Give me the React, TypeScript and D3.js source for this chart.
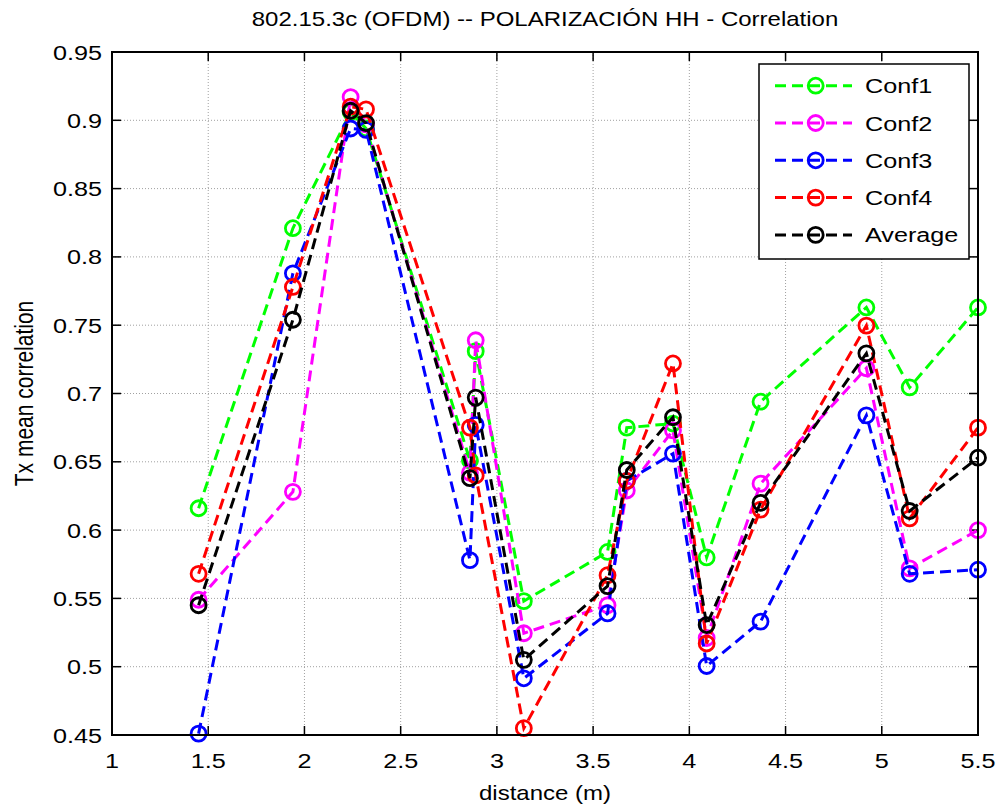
import React from "react";
import * as d3 from "d3";

const distances = [1.45, 1.94, 2.24, 2.32, 2.86, 2.89, 3.14, 3.575, 3.675, 3.915, 4.09, 4.37, 4.92, 5.145, 5.5];

const conf1 = [0.616, 0.821, 0.906, 0.894, 0.651, 0.731, 0.548, 0.584, 0.675, 0.678, 0.58, 0.694, 0.763, 0.7045, 0.763];
const conf2 = [0.549, 0.628, 0.917, 0.897, 0.642, 0.739, 0.5245, 0.545, 0.629, 0.673, 0.521, 0.634, 0.7185, 0.572, 0.6];
const conf3 = [0.451, 0.788, 0.894, 0.893, 0.578, 0.677, 0.4915, 0.539, 0.636, 0.656, 0.5005, 0.533, 0.684, 0.568, 0.571];
const conf4 = [0.568, 0.778, 0.91, 0.908, 0.675, 0.64, 0.455, 0.567, 0.636, 0.722, 0.517, 0.615, 0.7497, 0.6086, 0.675];
const average = [0.545, 0.754, 0.907, 0.898, 0.638, 0.697, 0.505, 0.559, 0.644, 0.6826, 0.5305, 0.62, 0.7294, 0.614, 0.653];

const seriesNames = ["Conf1", "Conf2", "Conf3", "Conf4", "Average"];
const seriesValues = [conf1, conf2, conf3, conf4, average];
const seriesColors = ["#00ff00", "#ff00ff", "#0000ff", "#ff0000", "#000000"];

const xTicks = [1, 1.5, 2, 2.5, 3, 3.5, 4, 4.5, 5, 5.5];
const yTicks = [0.45, 0.5, 0.55, 0.6, 0.65, 0.7, 0.75, 0.8, 0.85, 0.9, 0.95];

const title = "802.15.3c (OFDM) -- POLARIZACIÓN HH - Correlation";
const xTitle = "distance (m)";
const yTitle = "Tx mean correlation";

export default function App() {
  const W = 999, H = 807;
  const L = 112, R = 978, T = 52, B = 735;
  const x = d3.scaleLinear().domain([1, 5.5]).range([L, R]);
  const y = d3.scaleLinear().domain([0.45, 0.95]).range([B, T]);
  const line = d3.line<number>().x((_, i) => x(distances[i])).y((v) => y(v));
  const font = "'Liberation Sans', Arial, sans-serif";
  const tick = 9;
  const sx = 1.2;
  const fmt = (v: number) => String(+v.toFixed(2));

  const lg = { x0: 759, y0: 64, x1: 969, y1: 259 };
  const rowY = (i: number) => 85.7 + i * 37.3;

  return (
    <svg width={W} height={H} style={{ position: "absolute", left: 0, top: 0, background: "#fff" }} fontFamily={font}>
      <rect x={0} y={0} width={W} height={H} fill="#fff" />
      <rect x={L} y={T} width={R - L} height={B - T} fill="#fff" />
      {/* grid */}
      {xTicks.map((t) => (
        <line key={"gx" + t} x1={x(t)} x2={x(t)} y1={T} y2={B} stroke="#a0a0a0" strokeWidth={1} strokeDasharray="1,2" />
      ))}
      {yTicks.map((t) => (
        <line key={"gy" + t} x1={L} x2={R} y1={y(t)} y2={y(t)} stroke="#a0a0a0" strokeWidth={1} strokeDasharray="1,2" />
      ))}
      {/* ticks */}
      {xTicks.map((t) => (
        <g key={"tx" + t}>
          <line x1={x(t)} x2={x(t)} y1={B} y2={B - tick} stroke="#000" strokeWidth={1.5} />
          <line x1={x(t)} x2={x(t)} y1={T} y2={T + tick} stroke="#000" strokeWidth={1.5} />
          <text transform={`translate(${x(t)},768) scale(${sx},1)`} textAnchor="middle" fontSize={21} fill="#000">{fmt(t)}</text>
        </g>
      ))}
      {yTicks.map((t) => (
        <g key={"ty" + t}>
          <line x1={L} x2={L + tick} y1={y(t)} y2={y(t)} stroke="#000" strokeWidth={1.5} />
          <line x1={R} x2={R - tick} y1={y(t)} y2={y(t)} stroke="#000" strokeWidth={1.5} />
          <text transform={`translate(102,${y(t) + 7.5}) scale(${sx},1)`} textAnchor="end" fontSize={21} fill="#000">{fmt(t)}</text>
        </g>
      ))}
      {/* series */}
      {seriesValues.map((vals, si) => (
        <g key={"s" + si}>
          <path d={line(vals) || ""} fill="none" stroke={seriesColors[si]} strokeWidth={3} strokeDasharray="11,6" />
          {vals.map((v, i) => (
            <circle key={i} cx={x(distances[i])} cy={y(v)} r={7.5} fill="none" stroke={seriesColors[si]} strokeWidth={2.8} />
          ))}
        </g>
      ))}
      {/* axes box */}
      <rect x={L} y={T} width={R - L} height={B - T} fill="none" stroke="#000" strokeWidth={2} />
      {/* legend */}
      <rect x={lg.x0} y={lg.y0} width={lg.x1 - lg.x0} height={lg.y1 - lg.y0} fill="#fff" stroke="#000" strokeWidth={1.5} />
      {seriesNames.map((n, i) => (
        <g key={"l" + n}>
          <line x1={775} x2={852} y1={rowY(i)} y2={rowY(i)} stroke={seriesColors[i]} strokeWidth={3} strokeDasharray="11,6" />
          <circle cx={815.7} cy={rowY(i)} r={7.5} fill="none" stroke={seriesColors[i]} strokeWidth={2.8} />
          <text transform={`translate(865,${rowY(i) + 7.5}) scale(${sx},1)`} fontSize={21} fill="#000">{n}</text>
        </g>
      ))}
      {/* titles */}
      <text transform={`translate(${(L + R) / 2},26) scale(${sx},1)`} textAnchor="middle" fontSize={20} fill="#000">{title}</text>
      <text transform={`translate(${(L + R) / 2},800) scale(${sx},1)`} textAnchor="middle" fontSize={20} fill="#000">{xTitle}</text>
      <text transform={`translate(33,${(T + B) / 2}) rotate(-90) scale(1,${sx})`} textAnchor="middle" fontSize={21} fill="#000">{yTitle}</text>
    </svg>
  );
}
